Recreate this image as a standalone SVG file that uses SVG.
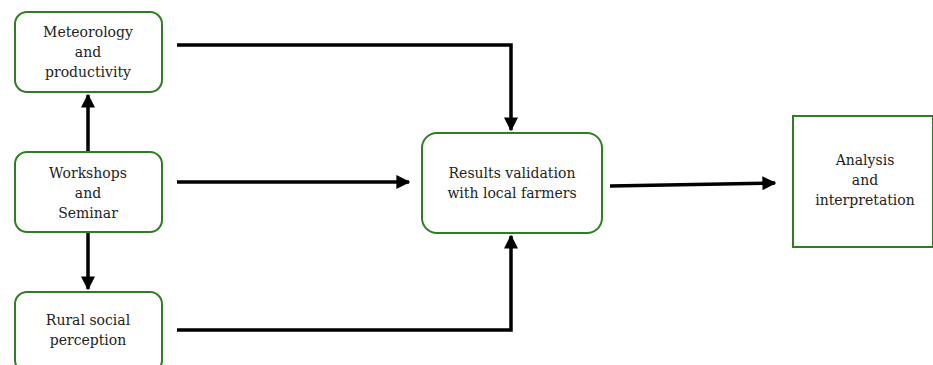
<svg xmlns="http://www.w3.org/2000/svg" width="933" height="365" viewBox="0 0 933 365">
  <style>
    .box { fill: #ffffff; stroke: #2f7d22; stroke-width: 2; }
    .lbl { font-family: "DejaVu Serif", "Liberation Serif", serif; font-size: 14px; fill: #222222; text-anchor: middle; }
    .wire { fill: none; stroke: #000000; stroke-width: 3.5; stroke-linejoin: miter; }
  </style>
  <defs>
    <marker id="head" viewBox="0 0 10 10" refX="9" refY="5" markerWidth="4" markerHeight="4" orient="auto" markerUnits="strokeWidth">
      <path d="M0,0 L10,5 L0,10 Z" fill="#000000"/>
    </marker>
  </defs>
  <rect width="933" height="365" fill="#ffffff"/>

  <g id="connectors">
    <line class="wire" x1="88" y1="152" x2="88" y2="95" marker-end="url(#head)"/>
    <line class="wire" x1="88" y1="232" x2="88" y2="289" marker-end="url(#head)"/>
    <polyline class="wire" points="177,45 511,45 511,130" marker-end="url(#head)"/>
    <line class="wire" x1="177" y1="182" x2="409" y2="182" marker-end="url(#head)"/>
    <polyline class="wire" points="177,330 511,330 511,236" marker-end="url(#head)"/>
    <line class="wire" x1="610" y1="186" x2="775" y2="183" marker-end="url(#head)"/>
  </g>

  <g id="meteorology">
    <rect class="box" x="15" y="12" width="147" height="80" rx="12"/>
    <text class="lbl" x="88" y="37">Meteorology</text>
    <text class="lbl" x="88" y="57">and</text>
    <text class="lbl" x="88" y="77">productivity</text>
  </g>

  <g id="workshops">
    <rect class="box" x="15" y="152" width="147" height="80" rx="12"/>
    <text class="lbl" x="88" y="178">Workshops</text>
    <text class="lbl" x="88" y="198">and</text>
    <text class="lbl" x="88" y="218">Seminar</text>
  </g>

  <g id="rural">
    <rect class="box" x="15" y="292" width="147" height="80" rx="12"/>
    <text class="lbl" x="88" y="325">Rural social</text>
    <text class="lbl" x="88" y="345">perception</text>
  </g>

  <g id="validation">
    <rect class="box" x="422" y="133" width="180" height="100" rx="15"/>
    <text class="lbl" x="512" y="178">Results validation</text>
    <text class="lbl" x="512" y="198">with local farmers</text>
  </g>

  <g id="analysis">
    <rect class="box" x="793" y="116" width="140" height="131"/>
    <text class="lbl" x="865" y="165">Analysis</text>
    <text class="lbl" x="865" y="185">and</text>
    <text class="lbl" x="865" y="205">interpretation</text>
  </g>
</svg>
